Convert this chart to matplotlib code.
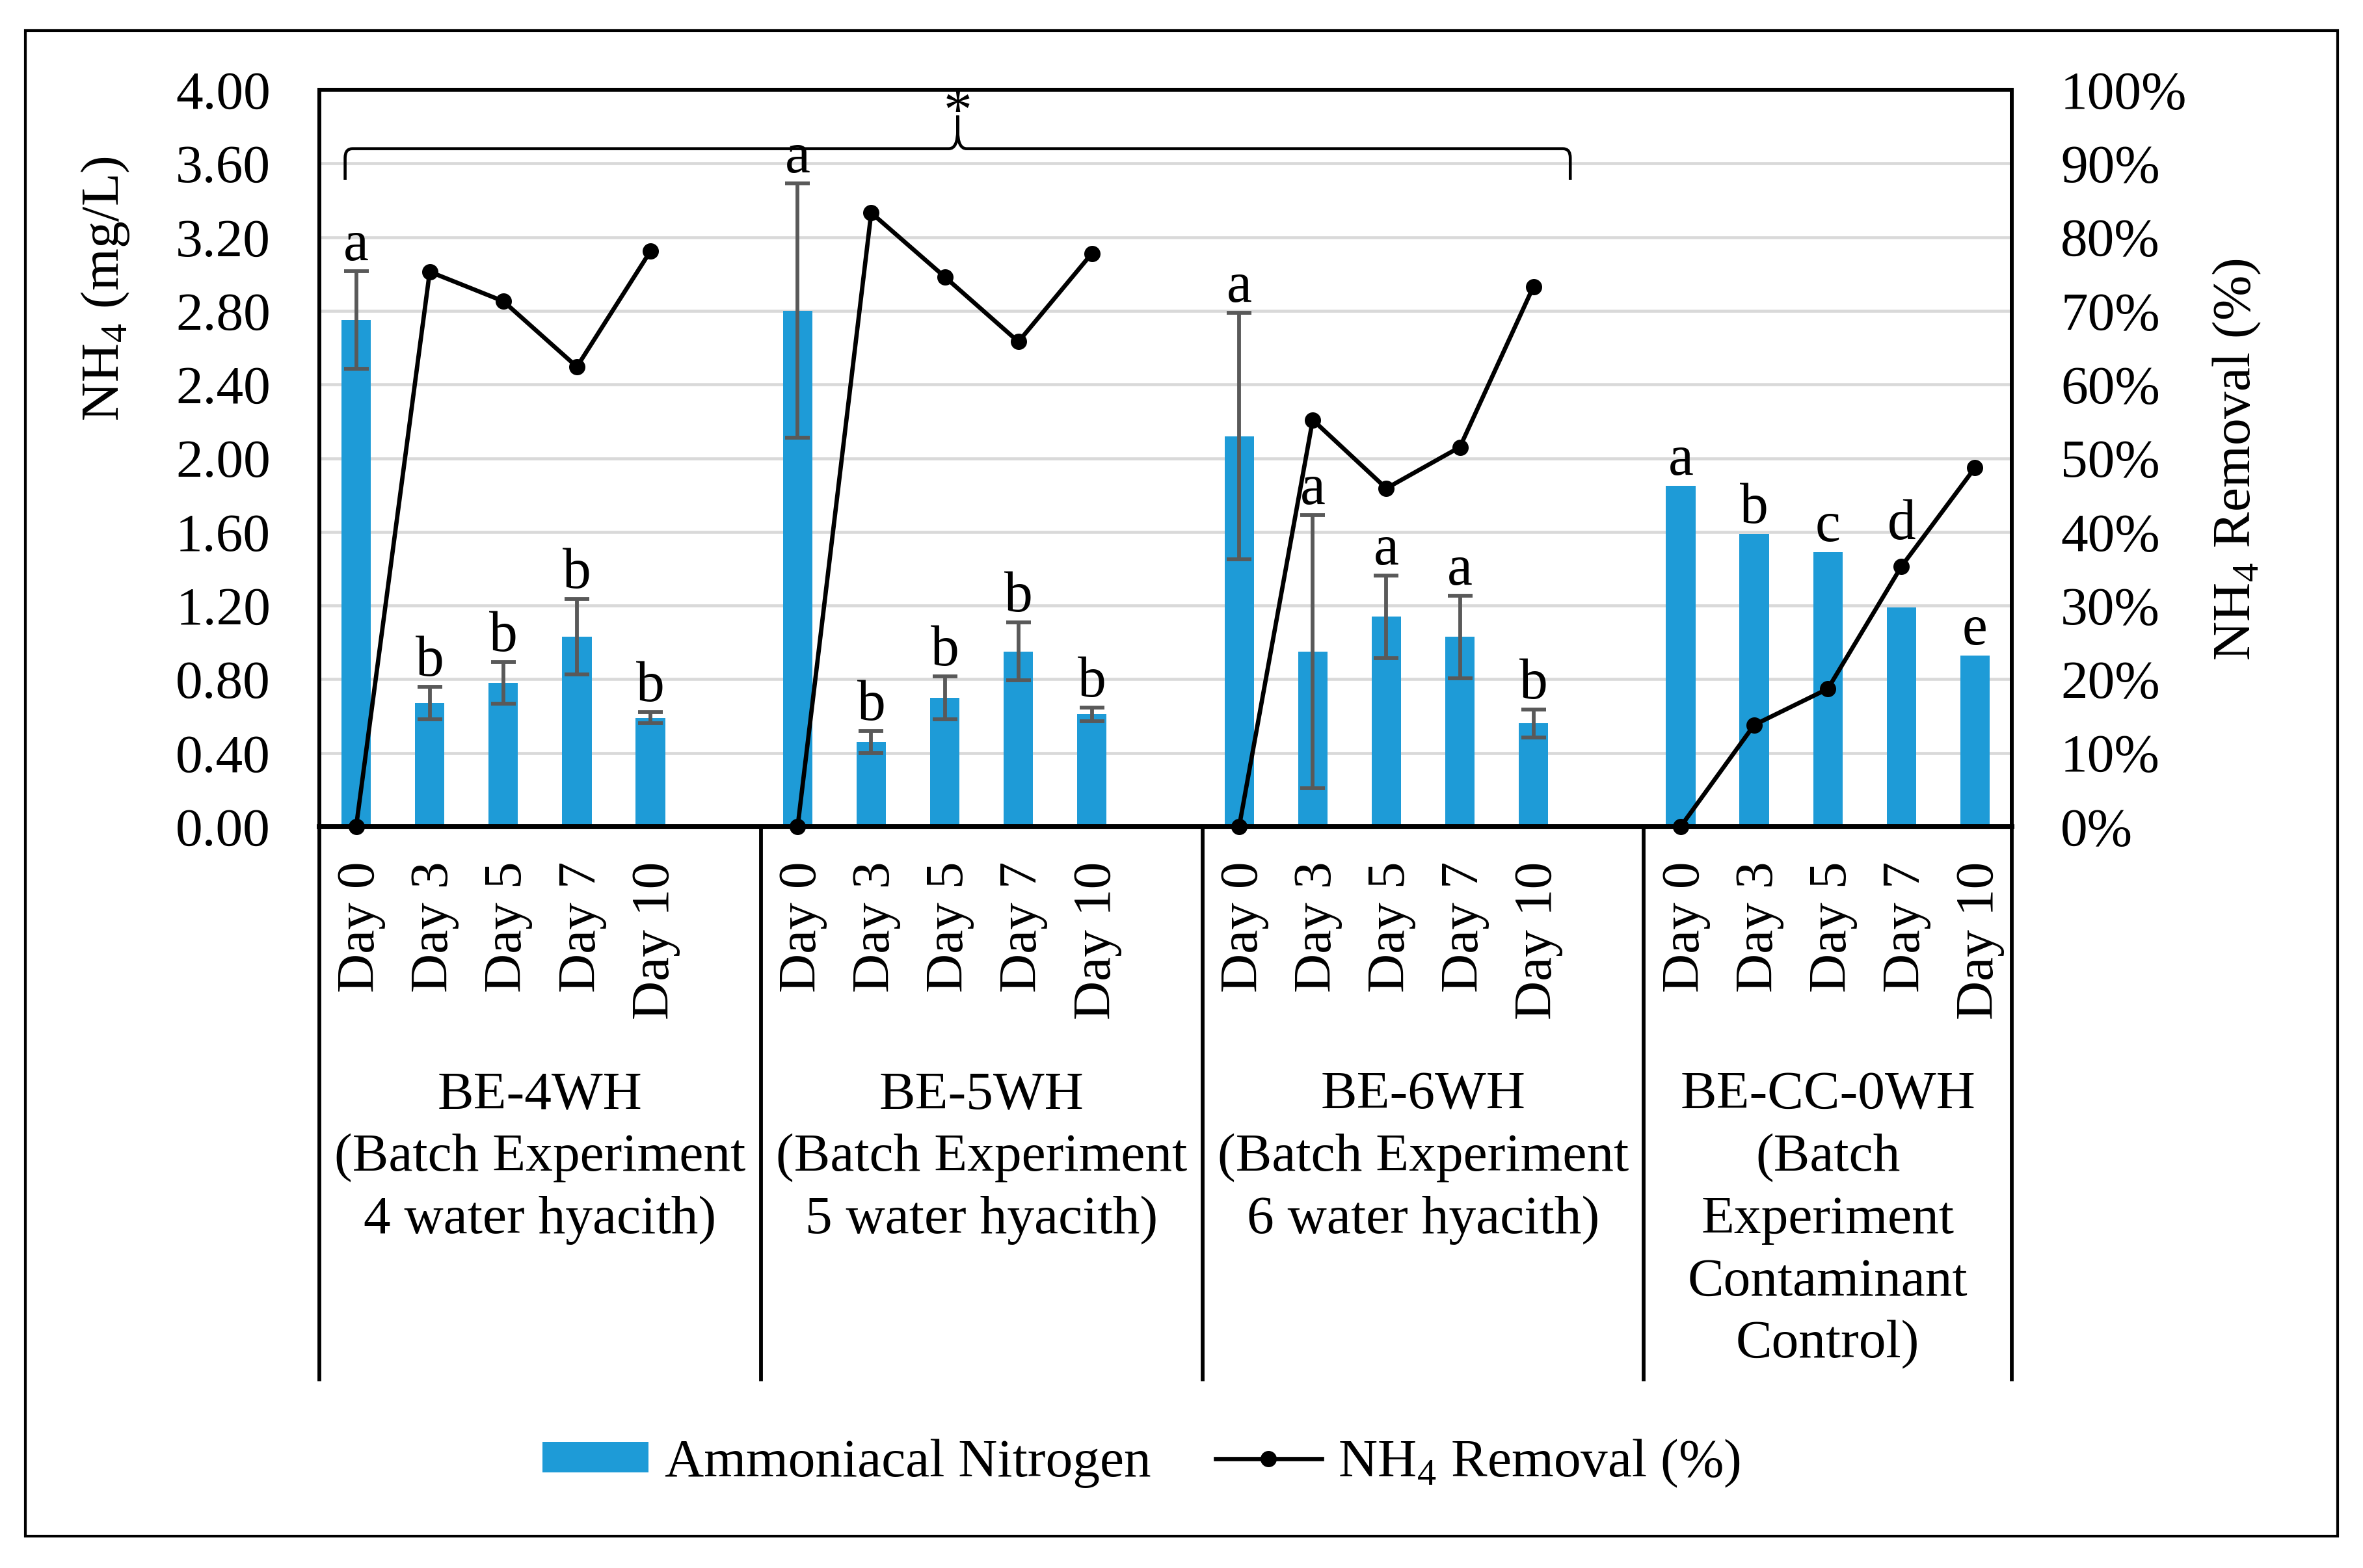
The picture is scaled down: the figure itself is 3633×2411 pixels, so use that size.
import numpy as np
import matplotlib
matplotlib.use("Agg")
import matplotlib.pyplot as plt
from matplotlib.patches import Rectangle, Patch, PathPatch
from matplotlib.path import Path
from matplotlib.lines import Line2D

plt.rcParams["font.family"] = ["Liberation Serif", "DejaVu Serif"]
plt.rcParams["mathtext.fontset"] = "custom"
plt.rcParams["mathtext.rm"] = "Liberation Serif"

W, H = 3633, 2411
BLUE = "#1E9BD7"

# data
group_labels = [
    "BE-4WH\n(Batch Experiment\n4 water hyacith)",
    "BE-5WH\n(Batch Experiment\n5 water hyacith)",
    "BE-6WH\n(Batch Experiment\n6 water hyacith)",
    "BE-CC-0WH\n(Batch\nExperiment\nContaminant\nControl)",
]
days = ["Day 0", "Day 3", "Day 5", "Day 7", "Day 10"]

nh4_4wh = [2.75, 0.67, 0.78, 1.03, 0.59]
nh4_5wh = [2.80, 0.46, 0.70, 0.95, 0.61]
nh4_6wh = [2.12, 0.95, 1.14, 1.03, 0.56]
nh4_cc = [1.85, 1.59, 1.49, 1.19, 0.93]

err_4wh = [0.265, 0.088, 0.114, 0.205, 0.03]
err_5wh = [0.69, 0.06, 0.117, 0.157, 0.037]
err_6wh = [0.67, 0.74, 0.224, 0.224, 0.075]

removal_4wh = [0, 75.3, 71.3, 62.4, 78.1]
removal_5wh = [0, 83.3, 74.6, 65.8, 77.8]
removal_6wh = [0, 55.2, 45.9, 51.5, 73.3]
removal_cc = [0, 13.8, 18.7, 35.3, 48.7]

letters_4wh = ["a", "b", "b", "b", "b"]
letters_5wh = ["a", "b", "b", "b", "b"]
letters_6wh = ["a", "a", "a", "a", "b"]
letters_cc = ["a", "b", "c", "d", "e"]

nh4 = [nh4_4wh, nh4_5wh, nh4_6wh, nh4_cc]
errs = [err_4wh, err_5wh, err_6wh, None]
removal = [removal_4wh, removal_5wh, removal_6wh, removal_cc]
letters = [letters_4wh, letters_5wh, letters_6wh, letters_cc]

# the "d" label was lifted above the line in the original
letter_lift = {(3, 3): 0.31}

fig = plt.figure(figsize=(W / 300, H / 300), dpi=300)
ax = fig.add_axes([491 / W, 1 - 1271 / H, (3093 - 491) / W, (1271 - 138) / H])
ax2 = ax.twinx()

# each group takes 6 slots (5 days + blank), last group 5
for g in range(4):
    x = g * 6 + np.arange(len(days))
    ax.bar(x, nh4[g], width=0.4, color=BLUE, zorder=2)
    tops = np.array(nh4[g], dtype=float)
    if errs[g] is not None:
        ax.errorbar(x, nh4[g], yerr=errs[g], fmt="none", ecolor="#595959",
                    elinewidth=1.4, capsize=4.6, capthick=1.4, zorder=3)
        tops = tops + np.array(errs[g])
    for i, (xi, t, lt) in enumerate(zip(x, tops, letters[g])):
        y = t + 0.06 + letter_lift.get((g, i), 0)
        ax.text(xi, y, lt, ha="center", va="baseline", fontsize=21, zorder=5)
    ax2.plot(x, removal[g], color="black", lw=1.6, marker="o", ms=5,
             clip_on=False, zorder=4)
    for xi, d in zip(x, days):
        ax.text(xi + 0.07, -0.047, d, transform=ax.get_xaxis_transform(),
                rotation=90, ha="center", va="top", fontsize=20)

ax.set_xlim(-0.5, 22.5)
ax.set_ylim(0, 4)
ax.set_yticks(np.arange(0, 4.01, 0.4))
ax.set_yticklabels([f"{v:.2f}" for v in np.arange(0, 4.01, 0.4)])
ax.set_xticks([])
ax.yaxis.grid(True, color="#D9D9D9", lw=1.1)
ax.set_axisbelow(True)
ax.tick_params(axis="y", length=0, pad=18, labelsize=20)

ax2.set_ylim(0, 100)
ax2.set_yticks(np.arange(0, 101, 10))
ax2.set_yticklabels([f"{v}%" for v in range(0, 101, 10)])
ax2.tick_params(axis="y", length=0, pad=18, labelsize=20)

for a in (ax, ax2):
    for s in a.spines.values():
        s.set_color("black")
        s.set_linewidth(1.4)
ax.spines["bottom"].set_linewidth(1.8)
ax2.spines["bottom"].set_linewidth(1.8)

# category axis: separators and group names
xt = ax.get_xaxis_transform()
for xb in [-0.5, 5.5, 11.5, 17.5, 22.5]:
    ax.plot([xb, xb], [0, -0.75], transform=xt, clip_on=False, color="black", lw=1.4)
group_centers = [2.5, 8.5, 14.5, 20.0]
for cx, lab in zip(group_centers, group_labels):
    ax.text(cx, -0.332, lab, transform=xt, ha="center", va="top",
            fontsize=20, linespacing=1.35)

# significance bracket over the three planted groups
xl, xr = -0.15, 16.5
xm = (xl + xr) / 2
yb, yh, yp = 3.51, 3.68, 3.86
verts = [(xl, yb), (xl, 3.63), (xl, yh), (xl + 0.1, yh),
         (xm - 0.12, yh), (xm, yh), (xm, 3.78), (xm, yp),
         (xm, 3.78), (xm, yh), (xm + 0.12, yh),
         (xr - 0.1, yh), (xr, yh), (xr, 3.63), (xr, yb)]
codes = [Path.MOVETO, Path.LINETO, Path.CURVE3, Path.CURVE3,
         Path.LINETO, Path.CURVE3, Path.CURVE3, Path.LINETO,
         Path.LINETO, Path.CURVE3, Path.CURVE3,
         Path.LINETO, Path.CURVE3, Path.CURVE3, Path.LINETO]
ax.add_patch(PathPatch(Path(verts, codes), fill=False, ec="black", lw=1.1,
                       clip_on=False, zorder=5))
ax.text(xm, 3.79, "*", ha="center", va="baseline", fontsize=21, clip_on=False)

fig.text(162 / W, 1 - 444 / H, r"NH$_\mathregular{4}$ (mg/L)", rotation=90,
         ha="center", va="center", fontsize=20)
fig.text(3439 / W, 1 - 707 / H, r"NH$_\mathregular{4}$ Removal (%)", rotation=90,
         ha="center", va="center", fontsize=20)

handles = [Patch(facecolor=BLUE),
           Line2D([], [], color="black", lw=1.6, marker="o", ms=5)]
fig.legend(handles, ["Ammoniacal Nitrogen", r"NH$_\mathregular{4}$ Removal (%)"],
           loc="center", bbox_to_anchor=(0.483, 1 - 2250 / H), ncol=2,
           frameon=False, fontsize=20, handlelength=1.95, handleheight=0.5,
           handletextpad=0.3, columnspacing=1.2)

fig.add_artist(Rectangle((39 / W, 1 - 2362 / H), (3594 - 39) / W, (2362 - 47) / H,
                         transform=fig.transFigure, fill=False, ec="black", lw=1.0))

fig.savefig("out.png", dpi=300)
